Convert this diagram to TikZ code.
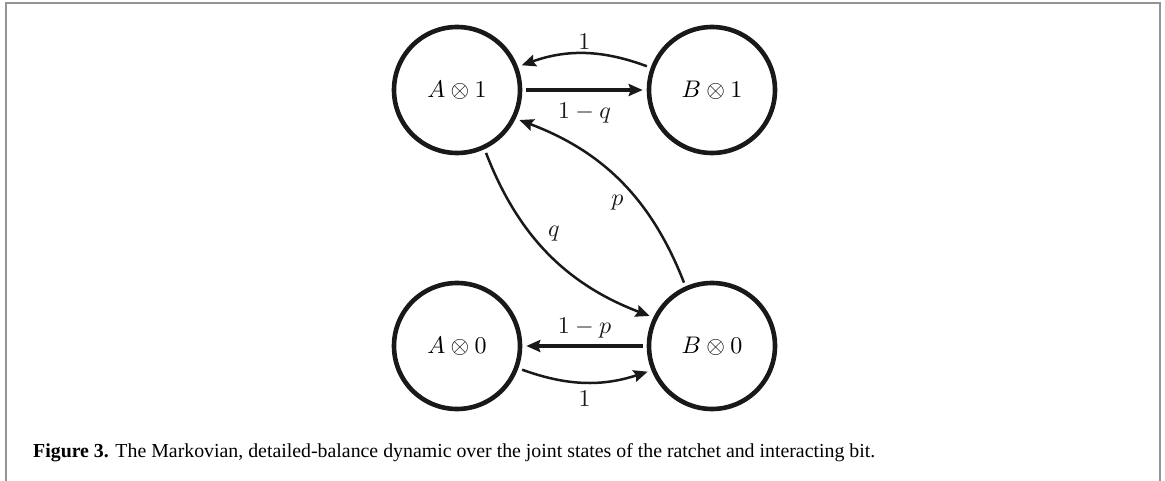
\documentclass[tikz,border=0pt]{standalone}
\usepackage{fontspec}
\newfontfamily\capfont{Liberation Serif}
\usetikzlibrary{arrows.meta}
\newcommand{\bigmath}[1]{\scalebox{2.4}{$#1$}}
\begin{document}
\begin{tikzpicture}[x=1pt,y=-1pt,
  state/.style={circle, draw=black!90, line width=4.6pt, minimum size=126pt, inner sep=0pt},
  lab/.style={inner sep=2pt},
  arr/.style={-{Stealth[length=14pt,width=12pt,inset=2pt]}, line width=2.5pt, black!90,
    shorten <=4pt, shorten >=4pt},
  sarr/.style={arr, line width=3.2pt},
  frame/.style={draw=black!42, line width=1.6pt}]
\useasboundingbox (0,0) rectangle (1165,481);
\coordinate (fbl) at (6,481);
\coordinate (ftr) at (1160,3);
\coordinate (fbr) at (1160,481);
\draw[frame] (fbl) |- (ftr) -- (fbr);

\node[state] (A1) at (457,90) {\bigmath{A\otimes 1}};
\node[state] (B1) at (712,90) {\bigmath{B\otimes 1}};
\node[state] (A0) at (457,346) {\bigmath{A\otimes 0}};
\node[state] (B0) at (712,346) {\bigmath{B\otimes 0}};

\draw[arr] (B1.160.5) to[bend right=20] node[lab, above=1pt, pos=0.5] (l1) {\bigmath{1}} (A1.21);
\draw[sarr] (A1.east) -- node[lab, below=9pt] (l2) {\bigmath{1-q}} (B1.west);
\draw[arr] (B0.114.7) to[bend right=24] node[lab, below left=-2pt, pos=0.5, xshift=4pt, yshift=-12pt] (l3) {\bigmath{p}} (A1.-26);
\draw[arr] (A1.-65) to[bend right=24] node[lab, above right=-2pt, pos=0.5, xshift=-2pt, yshift=11pt] (l4) {\bigmath{q}} (B0.154);
\draw[sarr] (B0.west) -- node[lab, above=4pt] (l5) {\bigmath{1-p}} (A0.east);
\draw[arr] (A0.-20) to[bend right=19] node[lab, below=6pt, pos=0.5] (l6) {\bigmath{1}} (B0.-158);

\node[anchor=base west, inner sep=0pt] (cap) at (33,457)
  {\resizebox{842pt}{!}{\capfont\fontsize{18}{22}\selectfont\textbf{Figure 3.} The Markovian, detailed-balance dynamic over the joint states of the ratchet and interacting bit.}};
\end{tikzpicture}
\end{document}
